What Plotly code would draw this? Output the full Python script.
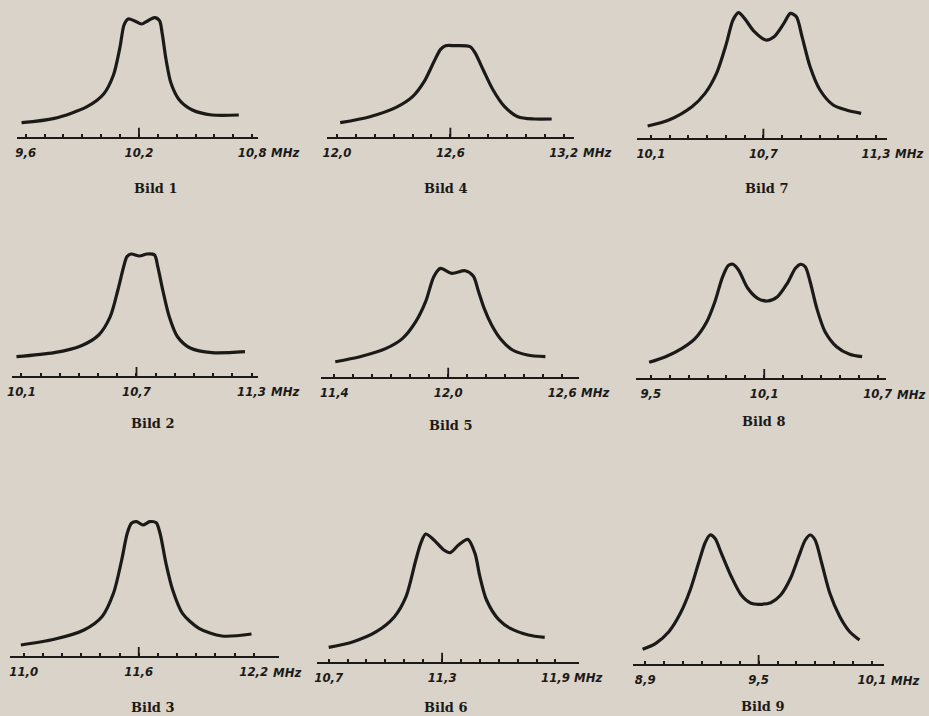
import numpy as np
import plotly.graph_objects as go

W, H = 929, 716
BG = "#d9d3c9"
INK = "#1c1a18"

# ---------------- data ----------------
bild_numbers = [1, 2, 3, 4, 5, 6, 7, 8, 9]
tick_lo = [9.6, 10.1, 11.0, 12.0, 11.4, 10.7, 10.1, 9.5, 8.9]
tick_mid = [10.2, 10.7, 11.6, 12.6, 12.0, 11.3, 10.7, 10.1, 9.5]
tick_hi = [10.8, 11.3, 12.2, 13.2, 12.6, 11.9, 11.3, 10.7, 10.1]

# resonance curves: frequency (MHz) and relative amplitude
f1 = [9.578, 9.752, 9.925, 10.013, 10.065, 10.100, 10.121, 10.143, 10.178, 10.213,
      10.248, 10.283, 10.309, 10.323, 10.344, 10.370, 10.414, 10.483, 10.587, 10.729]
a1 = [14, 18.3, 30, 42.7, 61.7, 90, 111.7, 117.7, 115.7, 112.7,
      116, 119, 116, 103.4, 76.7, 53.4, 36.7, 26.7, 21.7, 21.7]

f2 = [10.074, 10.271, 10.409, 10.503, 10.563, 10.603, 10.633, 10.650, 10.672, 10.715,
      10.755, 10.794, 10.811, 10.837, 10.871, 10.914, 10.983, 11.094, 11.266]
a2 = [19.3, 23.3, 30, 41, 59.3, 86, 109.3, 119.3, 122, 120,
      122, 121, 109.3, 86, 59.3, 39.3, 27.7, 23.3, 24.3]

f3 = [10.985, 11.159, 11.314, 11.408, 11.468, 11.511, 11.540, 11.562, 11.588, 11.622,
      11.657, 11.691, 11.711, 11.742, 11.777, 11.828, 11.914, 12.034, 12.188]
a3 = [11, 16.7, 26, 39.3, 62.7, 96, 122.7, 132.7, 134.3, 131,
      134.3, 133.3, 122.7, 92.7, 66, 42.7, 27.7, 20, 22]

f4 = [12.017, 12.174, 12.313, 12.400, 12.461, 12.513, 12.548, 12.574, 12.626, 12.704,
      12.730, 12.774, 12.826, 12.887, 12.957, 13.043, 13.136]
a4 = [14, 20, 29.3, 40, 55, 75, 87.3, 91, 91, 90,
      84, 66.7, 46.7, 30, 20, 17.7, 17.7]

f5 = [11.405, 11.535, 11.673, 11.760, 11.829, 11.881, 11.924, 11.959, 12.019, 12.089,
      12.132, 12.160, 12.190, 12.228, 12.275, 12.339, 12.417, 12.512]
a5 = [15, 20, 28.3, 38.3, 55, 75, 100, 108.3, 103.3, 106,
      100.7, 85, 68, 52, 38, 26.7, 21.7, 20]

f6 = [10.700, 10.830, 10.952, 11.048, 11.109, 11.161, 11.187, 11.213, 11.257, 11.309,
      11.343, 11.387, 11.436, 11.474, 11.500, 11.535, 11.600, 11.661, 11.757, 11.843]
a6 = [14.3, 20, 30, 45, 65, 101.7, 118.3, 127.7, 121.7, 111.7,
      109, 116.7, 122.3, 108.3, 85, 61.7, 42, 33.3, 26.7, 24.3]

f7 = [10.083, 10.196, 10.319, 10.389, 10.450, 10.503, 10.538, 10.568, 10.599, 10.652,
      10.713, 10.757, 10.809, 10.844, 10.876, 10.906, 10.949, 11.002, 11.072, 11.142, 11.221]
a7 = [11.7, 17.7, 31, 44.3, 64.3, 94.3, 117.7, 125, 119.3, 106,
      97.7, 101, 114.3, 124.3, 121, 101, 71, 47.7, 32.7, 27.7, 24.3]

f8 = [9.491, 9.578, 9.665, 9.735, 9.796, 9.839, 9.877, 9.909, 9.935, 9.964,
      10.013, 10.065, 10.117, 10.170, 10.222, 10.265, 10.291, 10.317, 10.343, 10.378,
      10.422, 10.483, 10.552, 10.618]
a8 = [15.7, 21.3, 29.7, 39.7, 56.3, 76.3, 99.7, 112.3, 113.7, 108,
      89.7, 79.7, 77, 81.3, 94.7, 109.7, 113.7, 111.3, 96.3, 69.7,
      46.3, 31.3, 23.7, 21.3]

f9 = [8.886, 8.956, 9.025, 9.086, 9.138, 9.182, 9.217, 9.243, 9.269, 9.303,
      9.356, 9.408, 9.460, 9.503, 9.564, 9.617, 9.669, 9.712, 9.747, 9.773,
      9.799, 9.834, 9.877, 9.930, 9.982, 10.034]
a9 = [14.7, 20.7, 32.3, 50.7, 74, 100.7, 121.3, 129, 125.7, 110.7,
      87.3, 69, 60.7, 59.7, 61.3, 69, 85.7, 107.3, 124, 129,
      124, 100.7, 70.7, 47.3, 32.3, 24]

freqs = [f1, f2, f3, f4, f5, f6, f7, f8, f9]
amps = [a1, a2, a3, a4, a5, a6, a7, a8, a9]

# ---------------- layout (pixel placement of each panel) ----------------
lo_px = [21, 16.7, 19, 336.7, 334, 328.3, 655, 655, 649.3]
hi_px = [250.7, 250, 252.3, 566.7, 565, 558.3, 883.3, 885, 879.3]
axis_px = [136.7, 376, 656, 136.7, 376.7, 661.7, 137.7, 378, 664]
line_l_px = [11.7, 7, 5, 326.7, 320, 316.7, 640.7, 640, 636.7]
line_r_px = [256.7, 257, 278, 576.7, 581.7, 581.7, 895, 893.3, 891.7]
bild_pos = [(153, 188), (150, 423), (150, 707), (447, 188), (452, 426),
            (447, 707), (773, 188), (770, 421), (769, 706)]

TICKFONT = dict(family="DejaVu Sans Condensed, Liberation Sans Narrow, DejaVu Sans, sans-serif",
                size=13, color=INK, weight="bold", style="italic")
BILDFONT = dict(family="DejaVu Serif, Liberation Serif, serif", size=13, color=INK, weight="bold")


def fmt(v):
    return f"{v:.1f}".replace(".", ",")


fig = go.Figure()
layout = dict(
    width=W, height=H, margin=dict(l=0, r=0, t=0, b=0),
    paper_bgcolor=BG, plot_bgcolor="rgba(0,0,0,0)", showlegend=False,
)
shapes = []
annotations = []

for i in range(9):
    n = i + 1
    xs = "" if n == 1 else str(n)
    lo, mid, hi = tick_lo[i], tick_mid[i], tick_hi[i]
    scale = (hi_px[i] - lo_px[i]) / (hi - lo)
    x0 = lo + (line_l_px[i] - lo_px[i]) / scale
    x1 = lo + (line_r_px[i] - lo_px[i]) / scale
    ytop = min(150, axis_px[i] - 1)

    fig.add_trace(go.Scatter(
        x=freqs[i], y=amps[i], mode="lines",
        line=dict(color=INK, width=3.2, shape="spline", smoothing=0.8),
        xaxis="x" + xs, yaxis="y" + xs, hoverinfo="skip",
    ))

    minor_vals = [round(v, 2) for v in np.arange(lo, hi + 0.001, 0.1)
                  if abs(v - lo) > 1e-6 and abs(v - mid) > 1e-6 and abs(v - hi) > 1e-6]

    layout["xaxis" + xs] = dict(
        domain=[line_l_px[i] / W, line_r_px[i] / W],
        range=[x0, x1], anchor="y" + xs,
        showgrid=False, zeroline=False,
        showline=True, linecolor=INK, linewidth=2.4,
        tickmode="array", tickvals=[lo, mid, hi],
        ticktext=[fmt(lo), fmt(mid), fmt(hi)],
        ticks="inside", ticklen=3, tickwidth=1.6, tickcolor=INK,
        tickfont=TICKFONT, ticklabelstandoff=2,
        minor=dict(tickmode="array", tickvals=minor_vals, ticks="inside",
                   ticklen=3, tickwidth=1.6, tickcolor=INK, showgrid=False),
        fixedrange=True,
    )
    layout["yaxis" + xs] = dict(
        domain=[1 - axis_px[i] / H, 1 - (axis_px[i] - ytop) / H],
        range=[0, ytop], anchor="x" + xs, visible=False, fixedrange=True,
    )

    # taller centre tick
    shapes.append(dict(type="line", xref="x" + xs, yref="y" + xs,
                       x0=mid, x1=mid, y0=0, y1=9,
                       line=dict(color=INK, width=1.8)))

    # unit label after the upper frequency
    annotations.append(dict(text="MHz", xref="x" + xs, yref="y" + xs, x=hi, y=0,
                            xanchor="left", yanchor="middle", xshift=17, yshift=-16,
                            showarrow=False, font=TICKFONT))

    bx, by = bild_pos[i]
    annotations.append(dict(text=f"Bild {bild_numbers[i]}", xref="paper", yref="paper",
                            x=bx / W, y=1 - by / H, xanchor="center", yanchor="middle",
                            showarrow=False, font=BILDFONT))

layout["shapes"] = shapes
layout["annotations"] = annotations
fig.update_layout(**layout)
fig.write_html("out.html")
